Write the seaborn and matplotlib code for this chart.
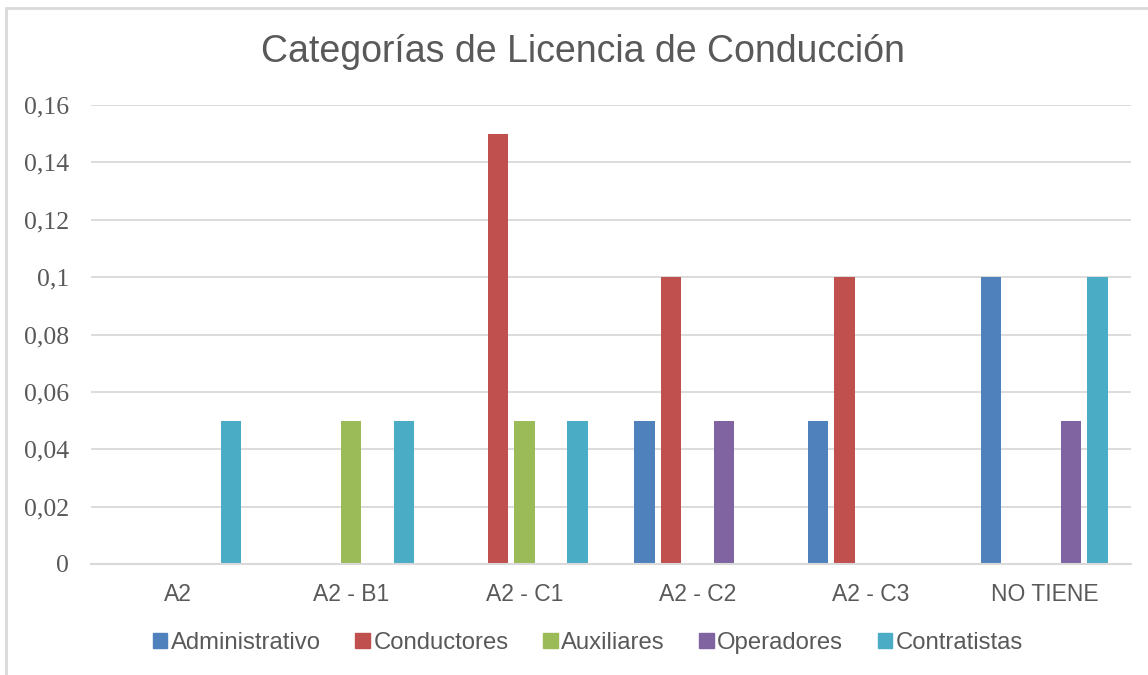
import matplotlib
matplotlib.use("Agg")
import matplotlib.pyplot as plt
import seaborn as sns
import pandas as pd
from matplotlib.patches import Rectangle
from matplotlib.ticker import FuncFormatter

categories = ["A2", "A2 - B1", "A2 - C1", "A2 - C2", "A2 - C3", "NO TIENE"]
series = ["Administrativo", "Conductores", "Auxiliares", "Operadores", "Contratistas"]
administrativo = [0, 0, 0, 0.05, 0.05, 0.10]
conductores = [0, 0, 0.15, 0.10, 0.10, 0]
auxiliares = [0, 0.05, 0.05, 0, 0, 0]
operadores = [0, 0, 0, 0.05, 0, 0.05]
contratistas = [0.05, 0.05, 0.05, 0, 0, 0.10]
colors = ["#4F81BD", "#C0504D", "#9BBB59", "#8064A2", "#4BACC6"]
yticks = [0, 0.02, 0.04, 0.06, 0.08, 0.10, 0.12, 0.14, 0.16]
title = "Categorías de Licencia de Conducción"

values = [administrativo, conductores, auxiliares, operadores, contratistas]
rows = []
for s, vals in zip(series, values):
    for c, v in zip(categories, vals):
        rows.append({"cat": c, "serie": s, "val": v})
df = pd.DataFrame(rows)

sns.set_theme(style="white")
plt.rcParams["font.family"] = ["Liberation Sans", "DejaVu Sans"]
txt = "#595959"
grid = "#D9D9D9"

fig = plt.figure(figsize=(11.48, 6.75), dpi=100)
ax = fig.add_axes([91 / 1148, 1 - 564 / 675, (1131 - 91) / 1148, (564 - 105) / 675])

sns.barplot(data=df, x="cat", y="val", hue="serie", order=categories,
            hue_order=series, palette=colors, width=0.766, gap=0.23,
            linewidth=0, saturation=1, ax=ax, errorbar=None)

ax.set_ylim(0, 0.16)
ax.set_xlim(-0.5, len(categories) - 0.5)
ax.set_yticks(yticks)
ax.yaxis.set_major_formatter(FuncFormatter(lambda v, p: ("%g" % round(v, 4)).replace(".", ",")))
ax.grid(axis="y", color=grid, linewidth=1.3)
ax.set_axisbelow(True)
for side in ["top", "right", "left"]:
    ax.spines[side].set_visible(False)
ax.spines["bottom"].set_color(grid)
ax.spines["bottom"].set_linewidth(1.5)
ax.set_xlabel("")
ax.set_ylabel("")
ax.tick_params(axis="both", length=0)
for lab in ax.get_yticklabels():
    lab.set_fontfamily(["Liberation Serif", "DejaVu Serif"])
    lab.set_fontsize(18.5)
    lab.set_color(txt)
ax.tick_params(axis="y", pad=16)
ax.tick_params(axis="x", pad=14, labelsize=16.5, labelcolor=txt)

ax.legend_.remove()
handles = [Rectangle((0, 0), 1, 1, color=c) for c in colors]
fig.legend(handles, series, loc="center", bbox_to_anchor=(588 / 1148, 1 - 643 / 675),
           ncol=5, frameon=False, fontsize=17.2, labelcolor=txt,
           handlelength=0.6, handleheight=0.6, handletextpad=0.15, columnspacing=1.45)

fig.text(583 / 1148, 1 - 52 / 675, title, ha="center", va="center",
         fontsize=27, color=txt)

fig.patches.append(Rectangle((6 / 1148, -0.1), 1.2, 1.1 - 8 / 675 , transform=fig.transFigure,
                             fill=False, edgecolor=grid, linewidth=2, figure=fig))

fig.savefig("out.png", dpi=100, facecolor="white")
